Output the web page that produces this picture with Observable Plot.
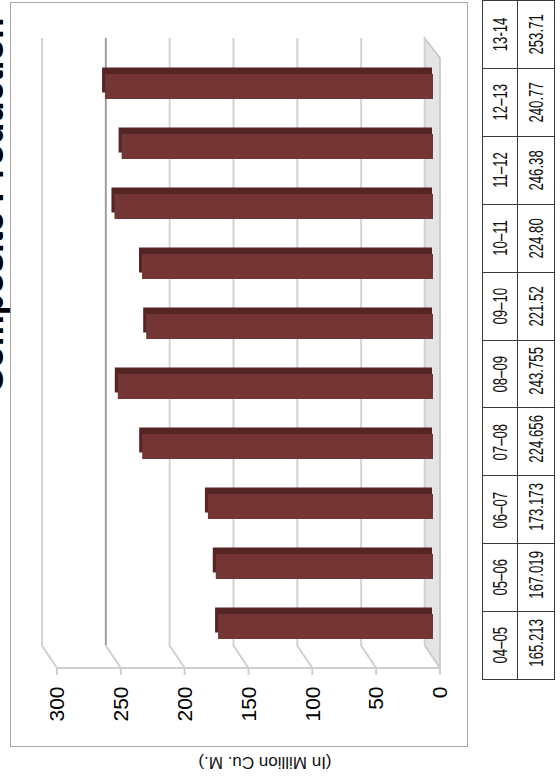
<!DOCTYPE html>
<html><head><meta charset="utf-8">
<script src="https://cdn.jsdelivr.net/npm/d3@7"></script>
<script src="https://cdn.jsdelivr.net/npm/@observablehq/plot@0.6"></script>
<style>
html,body{margin:0;padding:0;background:#fff;overflow:hidden;width:560px;height:781px;}
#stage{position:absolute;left:0;top:0;width:781px;height:560px;transform-origin:0 0;transform:translateY(781px) rotate(-90deg);font-family:"Liberation Sans",Arial,Helvetica,sans-serif;background:#fff;overflow:hidden;}
#frame{position:absolute;left:34px;top:10px;width:743px;height:456px;border:1.5px solid #a9a9a9;}
#title{position:absolute;left:388px;top:-27px;font-size:35px;font-weight:bold;line-height:35px;white-space:nowrap;color:#000;}
#ylabel{position:absolute;left:19px;top:265px;font-size:17px;white-space:nowrap;transform:translate(-50%,-50%) rotate(-90deg);color:#111;}
#chart{position:absolute;left:0;top:0;}
#table{position:absolute;left:101px;top:482px;border-collapse:collapse;table-layout:fixed;width:680px;}
#table td{border:1.5px solid #3a3a3a;padding:0;text-align:center;font-size:20px;color:#111;overflow:hidden;white-space:nowrap;}
#table tr.h td{height:34px;}
#table tr.v td{height:36px;}
#table td span{display:inline-block;transform:scaleX(0.66);}
</style>
</head><body>
<div id="stage">
  <div id="frame"></div>
  <div id="chart"></div>
  <div id="title"></div>
  <div id="ylabel"></div>
  <table id="table"></table>
</div>
<script>
const titleText = "Composite Production";
const unitLabel = "(In Million Cu. M.)";
const years = ["04–05","05–06","06–07","07–08","08–09","09–10","10–11","11–12","12–13","13-14"];
const values = [165.213, 167.019, 173.173, 224.656, 243.755, 221.52, 224.80, 246.38, 240.77, 253.71];
const valueLabels = ["165.213","167.019","173.173","224.656","243.755","221.52","224.80","246.38","240.77","253.71"];
const ticks = [0, 50, 100, 150, 200, 250, 300];

const data = years.map((year, i) => ({year, value: values[i]}));

document.getElementById("title").textContent = titleText;
document.getElementById("ylabel").textContent = unitLabel;

// 3D floor, side-wall edges and front axis, placed with the y scale
function threeD(index, scales, vals, dim) {
  const y = scales.y;
  const L = dim.marginLeft, R = dim.width - dim.marginRight;
  const back = 4.5, front = 11, depth = 23;
  const g = d3.create("svg:g");
  const yb0 = y(0) - back, yf0 = y(0) + front;
  g.append("path")
    .attr("d", `M${L},${yb0}L${R},${yb0}L${R - 20},${yf0}L${L - depth},${yf0}Z`)
    .attr("fill", "#e4e4e4").attr("stroke", "#c2c2c2").attr("stroke-width", 1.5);
  g.append("line")
    .attr("x1", L - depth).attr("x2", L - depth)
    .attr("y1", y(0) + front).attr("y2", y(300) + front)
    .attr("stroke", "#cfcfcf").attr("stroke-width", 2);
  for (const t of ticks) {
    g.append("line")
      .attr("x1", L - depth).attr("y1", y(t) + front)
      .attr("x2", L).attr("y2", y(t) - back)
      .attr("stroke", "#cfcfcf").attr("stroke-width", 2);
    g.append("line")
      .attr("x1", L - depth - 7).attr("y1", y(t) + front)
      .attr("x2", L - depth).attr("y2", y(t) + front)
      .attr("stroke", "#cfcfcf").attr("stroke-width", 2);
  }
  return g.node();
}

const chart = Plot.plot({
  width: 781,
  height: 560,
  marginLeft: 136,
  marginRight: 38,
  marginTop: 46,
  marginBottom: 131,
  style: {background: "transparent", overflow: "visible"},
  x: {domain: years, range: [102.7, 746.7], padding: 0.58, axis: null},
  y: {domain: [0, 300], range: [429, 46], axis: null},
  marks: [
    threeD,
    Plot.ruleY(ticks.filter(t => t !== 250), {y: d => d, dy: -4.5, stroke: "#d3d3d3", strokeWidth: 2}),
    Plot.ruleY(ticks.filter(t => t === 250), {y: d => d, dy: -4.5, stroke: "#9e9e9e", strokeWidth: 2}),
    Plot.text(ticks, {y: d => d, text: d => String(d), frameAnchor: "left", dx: -42, dy: 11,
      textAnchor: "end", fontSize: 21, fill: "#000", fontFamily: "Liberation Sans, Arial, sans-serif"}),
    Plot.barY(data, {x: "year", y: "value", fill: "#552424", dx: 6.5, dy: -3, insetBottom: -6}),
    Plot.barY(data, {x: "year", y: "value", fill: "#743535", insetBottom: -4})
  ]
});
document.getElementById("chart").appendChild(chart);

// data table
const table = d3.select("#table");
const hr = table.append("tr").attr("class", "h");
hr.selectAll("td").data(years).join("td").append("span").text(d => d);
const vr = table.append("tr").attr("class", "v");
vr.selectAll("td").data(valueLabels).join("td").append("span").text(d => d);
</script>
</body></html>
